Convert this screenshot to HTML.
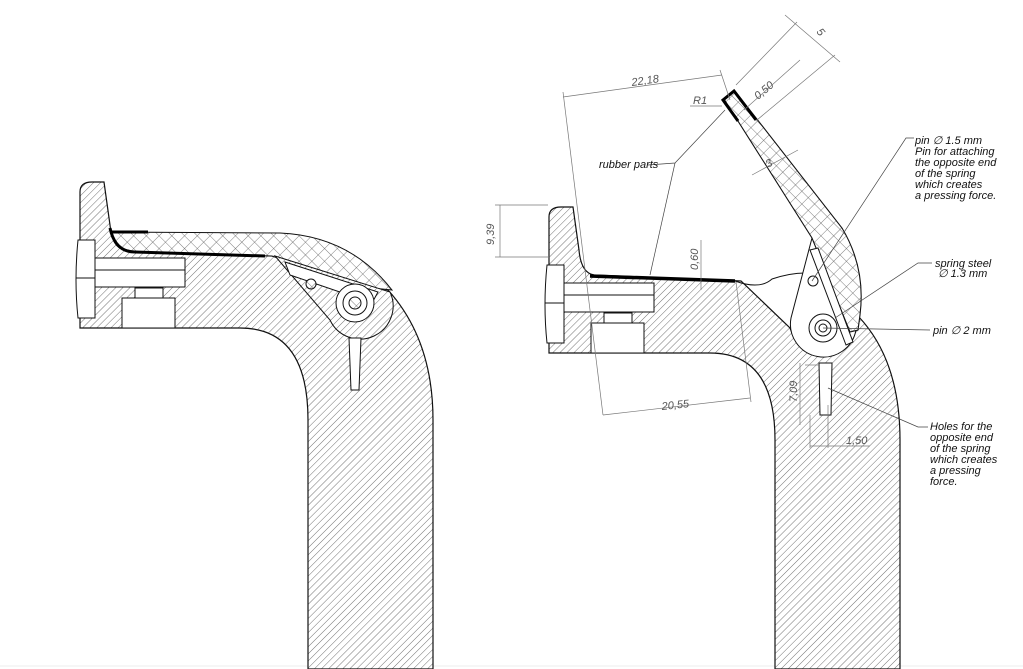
<!DOCTYPE html>
<html><head><meta charset="utf-8"><style>
html,body{margin:0;padding:0;background:#fff;}
svg{display:block;}
text{font-family:"Liberation Sans",sans-serif;font-style:italic;fill:#111;}
.d{fill:#555;font-size:11px;}
.n{font-size:11px;}
</style></head><body>
<svg width="1023" height="669" viewBox="0 0 1023 669" xmlns="http://www.w3.org/2000/svg">
<defs>
<pattern id="h" width="5" height="5" patternUnits="userSpaceOnUse" patternTransform="rotate(45)">
<rect width="5" height="5" fill="#fff"/><line x1="0" y1="0" x2="0" y2="5" stroke="#444" stroke-width="0.75"/></pattern>
<pattern id="x" width="9" height="9" patternUnits="userSpaceOnUse" patternTransform="rotate(45)">
<rect width="9" height="9" fill="#fff"/><line x1="0" y1="0" x2="0" y2="9" stroke="#555" stroke-width="0.75"/><line x1="0" y1="0" x2="9" y2="0" stroke="#555" stroke-width="0.75"/></pattern>
</defs>
<line x1="0" y1="666" x2="1023" y2="666" stroke="#eee"/>

<!-- LEFT DRAWING -->
<path d="M80,328 L80,192 Q80,182 92,182 L104,182 L110,225 Q112,248 125,250 L272,256 L388,290 Q433,340 433,420 L433,669 L308,669 L308,420 Q308,328 240,328 Z" fill="url(#h)" stroke="#111" stroke-width="1.2"/>
<path d="M112,232 L280,233 Q350,236 392,290 L372,288 L290,262 L272,256 L150,253 Q118,252 114,240 Z" fill="url(#x)" stroke="#111" stroke-width="1"/>
<path d="M112,232 L148,232" stroke="#000" stroke-width="3"/>
<path d="M110,228 Q115,252 135,252 L265,256" stroke="#000" stroke-width="3" fill="none"/>
<path d="M78,240 L95,240 L95,318 L78,318 Q74,280 78,240 Z" fill="#fff" stroke="#111"/>
<line x1="76" y1="278" x2="95" y2="278" stroke="#111"/>
<rect x="95" y="258" width="90" height="29" fill="#fff" stroke="#111"/>
<line x1="95" y1="270" x2="185" y2="270" stroke="#111"/>
<rect x="135" y="288" width="28" height="10" fill="#fff" stroke="#111"/>
<rect x="122" y="298" width="53" height="30" fill="#fff" stroke="#111"/>
<path d="M275,256 L390,292 A27,27 0 1 1 330,320 Z" fill="url(#h)" stroke="#111"/>
<path d="M285,262 L378,292 L372,303 L290,275 Z" fill="#fff" stroke="#111"/>
<circle cx="311" cy="284" r="5" fill="url(#x)" stroke="#111"/>
<circle cx="355" cy="303" r="19" fill="#fff" stroke="#111"/>
<circle cx="355" cy="303" r="12" fill="#fff" stroke="#111"/>
<circle cx="355" cy="303" r="6" fill="url(#x)" stroke="#111"/>
<path d="M349,338 L361,338 L359,390 L351,390 Z" fill="#fff" stroke="#111"/>

<!-- RIGHT DRAWING -->
<path d="M549,353 L549,217 Q549,207 561,207 L573,207 L579,250 Q581,273 594,275 L741,281 L790,328 A35,35 0 0 0 858,316 Q900,360 900,440 L900,669 L775,669 L775,440 Q775,353 710,353 Z" fill="url(#h)" stroke="#111" stroke-width="1.2"/>
<path d="M590,276 L735,281" stroke="#000" stroke-width="3.5"/>
<path d="M735,281 Q760,290 772,279 Q790,273 805,273" stroke="#111" fill="none"/>
<path d="M547,265 L564,265 L564,343 L547,343 Q543,305 547,265 Z" fill="#fff" stroke="#111"/>
<line x1="545" y1="303" x2="564" y2="303" stroke="#111"/>
<rect x="564" y="283" width="90" height="29" fill="#fff" stroke="#111"/>
<line x1="564" y1="295" x2="654" y2="295" stroke="#111"/>
<rect x="604" y="313" width="28" height="10" fill="#fff" stroke="#111"/>
<rect x="591" y="323" width="53" height="30" fill="#fff" stroke="#111"/>
<path d="M812,238 L856,330 A32,32 0 1 1 791,318 Z" fill="#fff" stroke="#111"/>
<path d="M724,99 L735,91 L842,228 Q866,268 860,315 L858,330 L850,332 L812,238 Z" fill="url(#x)" stroke="#111" stroke-width="1.1"/>
<path d="M810,250 L818,248 L853,342 L846,345 Z" fill="#fff" stroke="#111"/>
<path d="M756,120 L734,91 L723,100 L738,121" stroke="#000" stroke-width="3" fill="none"/>
<circle cx="813" cy="281" r="5" fill="#fff" stroke="#111"/>
<circle cx="823" cy="328" r="14" fill="#fff" stroke="#111"/>
<circle cx="823" cy="328" r="8" fill="#fff" stroke="#111"/>
<circle cx="823" cy="328" r="4" fill="#fff" stroke="#111"/>
<path d="M819,363 L832,363 L831,415 L820,415 Z" fill="#fff" stroke="#111"/>

<g stroke="#777" stroke-width="0.7" fill="none">
<line x1="563" y1="97" x2="722" y2="75"/><line x1="563" y1="92" x2="603" y2="415"/>
<line x1="720" y1="70" x2="730" y2="100"/>
<line x1="690" y1="106" x2="722" y2="106"/>
<line x1="744" y1="110" x2="800" y2="60"/><line x1="757" y1="120" x2="835" y2="55"/>
<line x1="736" y1="85" x2="797" y2="22"/><line x1="785" y1="15" x2="840" y2="62"/>
<line x1="752" y1="175" x2="798" y2="150"/>
<line x1="495" y1="205" x2="548" y2="205"/><line x1="495" y1="257" x2="550" y2="257"/><line x1="500" y1="205" x2="500" y2="257"/>
<line x1="701" y1="240" x2="701" y2="290"/>
<line x1="603" y1="415" x2="750" y2="398"/><line x1="736" y1="282" x2="751" y2="402"/>
<line x1="800" y1="363" x2="800" y2="425"/><line x1="805" y1="365" x2="820" y2="365"/>
<line x1="810" y1="415" x2="810" y2="448"/><line x1="828" y1="405" x2="828" y2="448"/><line x1="810" y1="446" x2="870" y2="446"/>
</g>
<g stroke="#444" stroke-width="0.7" fill="none">
<polyline points="648,165 675,163 725,110"/><line x1="675" y1="163" x2="650" y2="275"/>
<polyline points="914,138 906,138 812,281"/>
<polyline points="932,263 918,263 835,318"/>
<line x1="930" y1="330" x2="823" y2="328"/>
<polyline points="928,427 918,427 828,388"/>
</g>
<text class="d" transform="translate(632,86) rotate(-8)">22,18</text>
<text class="d" x="693" y="104">R1</text>
<text class="d" transform="translate(758,100) rotate(-40)">0,50</text>
<text class="d" transform="translate(816,32) rotate(50)">5</text>
<text class="d" transform="translate(768,168) rotate(-30)">3</text>
<text class="d" transform="translate(494,245) rotate(-90)">9,39</text>
<text class="d" transform="translate(698,270) rotate(-90)">0,60</text>
<text class="d" transform="translate(662,410) rotate(-6)">20,55</text>
<text class="d" transform="translate(797,402) rotate(-90)">7,09</text>
<text class="d" x="846" y="444">1,50</text>
<text class="n" x="599" y="168">rubber parts</text>
<text class="n" x="915" y="144">pin ∅ 1.5 mm</text>
<text class="n" x="915" y="155">Pin for attaching</text>
<text class="n" x="915" y="166">the opposite end</text>
<text class="n" x="915" y="177">of the spring</text>
<text class="n" x="915" y="188">which creates</text>
<text class="n" x="915" y="199">a pressing force.</text>
<text class="n" x="935" y="267">spring steel</text>
<text class="n" x="938" y="277">∅ 1.3 mm</text>
<text class="n" x="933" y="334">pin ∅ 2 mm</text>
<text class="n" x="930" y="430">Holes for the</text>
<text class="n" x="930" y="441">opposite end</text>
<text class="n" x="930" y="452">of the spring</text>
<text class="n" x="930" y="463">which creates</text>
<text class="n" x="930" y="474">a pressing</text>
<text class="n" x="930" y="485">force.</text>
</svg>
</body></html>
